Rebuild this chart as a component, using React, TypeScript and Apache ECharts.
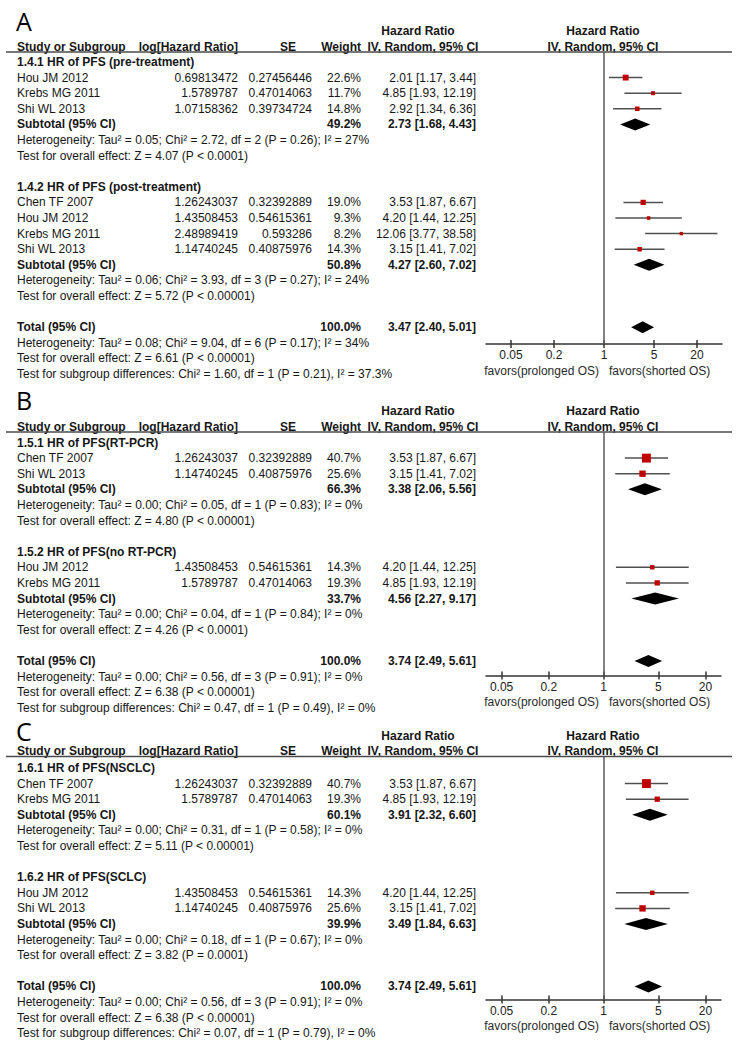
import React, { useEffect, useRef } from "react";
import * as echarts from "echarts";

// ---------------- data ----------------
const TICKS = [0.05, 0.2, 1, 5, 20];
const FAVOURS = ["favors(prolonged OS)", "favors(shorted OS)"];
const HEAD_COLS = ["Study or Subgroup", "log[Hazard Ratio]", "SE", "Weight"];
const HEAD_HR = ["Hazard Ratio", "IV, Random, 95% CI"];

// Panel A
const A1_title = "1.4.1 HR of PFS (pre-treatment)";
const A1_study = ["Hou JM 2012", "Krebs MG 2011", "Shi WL 2013"];
const A1_logHR = ["0.69813472", "1.5789787", "1.07158362"];
const A1_se = ["0.27456446", "0.47014063", "0.39734724"];
const A1_weight = [22.6, 11.7, 14.8];
const A1_hr = [2.01, 4.85, 2.92];
const A1_lo = [1.17, 1.93, 1.34];
const A1_hi = [3.44, 12.19, 6.36];
const A1_sub = [2.73, 1.68, 4.43, 49.2];
const A1_het = "Heterogeneity: Tau\u00b2 = 0.05; Chi\u00b2 = 2.72, df = 2 (P = 0.26); I\u00b2 = 27%";
const A1_z = "Test for overall effect: Z = 4.07 (P < 0.0001)";

const A2_title = "1.4.2 HR of PFS (post-treatment)";
const A2_study = ["Chen TF 2007", "Hou JM 2012", "Krebs MG 2011", "Shi WL 2013"];
const A2_logHR = ["1.26243037", "1.43508453", "2.48989419", "1.14740245"];
const A2_se = ["0.32392889", "0.54615361", "0.593286", "0.40875976"];
const A2_weight = [19.0, 9.3, 8.2, 14.3];
const A2_hr = [3.53, 4.2, 12.06, 3.15];
const A2_lo = [1.87, 1.44, 3.77, 1.41];
const A2_hi = [6.67, 12.25, 38.58, 7.02];
const A2_sub = [4.27, 2.6, 7.02, 50.8];
const A2_het = "Heterogeneity: Tau\u00b2 = 0.06; Chi\u00b2 = 3.93, df = 3 (P = 0.27); I\u00b2 = 24%";
const A2_z = "Test for overall effect: Z = 5.72 (P < 0.00001)";

const A_total = [3.47, 2.4, 5.01, 100.0];
const A_totalHet = "Heterogeneity: Tau\u00b2 = 0.08; Chi\u00b2 = 9.04, df = 6 (P = 0.17); I\u00b2 = 34%";
const A_totalZ = "Test for overall effect: Z = 6.61 (P < 0.00001)";
const A_diff = "Test for subgroup differences: Chi\u00b2 = 1.60, df = 1 (P = 0.21), I\u00b2 = 37.3%";

// Panel B
const B1_title = "1.5.1 HR of PFS(RT-PCR)";
const B1_study = ["Chen TF 2007", "Shi WL 2013"];
const B1_logHR = ["1.26243037", "1.14740245"];
const B1_se = ["0.32392889", "0.40875976"];
const B1_weight = [40.7, 25.6];
const B1_hr = [3.53, 3.15];
const B1_lo = [1.87, 1.41];
const B1_hi = [6.67, 7.02];
const B1_sub = [3.38, 2.06, 5.56, 66.3];
const B1_het = "Heterogeneity: Tau\u00b2 = 0.00; Chi\u00b2 = 0.05, df = 1 (P = 0.83); I\u00b2 = 0%";
const B1_z = "Test for overall effect: Z = 4.80 (P < 0.00001)";

const B2_title = "1.5.2 HR of PFS(no RT-PCR)";
const B2_study = ["Hou JM 2012", "Krebs MG 2011"];
const B2_logHR = ["1.43508453", "1.5789787"];
const B2_se = ["0.54615361", "0.47014063"];
const B2_weight = [14.3, 19.3];
const B2_hr = [4.2, 4.85];
const B2_lo = [1.44, 1.93];
const B2_hi = [12.25, 12.19];
const B2_sub = [4.56, 2.27, 9.17, 33.7];
const B2_het = "Heterogeneity: Tau\u00b2 = 0.00; Chi\u00b2 = 0.04, df = 1 (P = 0.84); I\u00b2 = 0%";
const B2_z = "Test for overall effect: Z = 4.26 (P < 0.0001)";

const B_total = [3.74, 2.49, 5.61, 100.0];
const B_totalHet = "Heterogeneity: Tau\u00b2 = 0.00; Chi\u00b2 = 0.56, df = 3 (P = 0.91); I\u00b2 = 0%";
const B_totalZ = "Test for overall effect: Z = 6.38 (P < 0.00001)";
const B_diff = "Test for subgroup differences: Chi\u00b2 = 0.47, df = 1 (P = 0.49), I\u00b2 = 0%";

// Panel C
const C1_title = "1.6.1 HR of PFS(NSCLC)";
const C1_study = ["Chen TF 2007", "Krebs MG 2011"];
const C1_logHR = ["1.26243037", "1.5789787"];
const C1_se = ["0.32392889", "0.47014063"];
const C1_weight = [40.7, 19.3];
const C1_hr = [3.53, 4.85];
const C1_lo = [1.87, 1.93];
const C1_hi = [6.67, 12.19];
const C1_sub = [3.91, 2.32, 6.6, 60.1];
const C1_het = "Heterogeneity: Tau\u00b2 = 0.00; Chi\u00b2 = 0.31, df = 1 (P = 0.58); I\u00b2 = 0%";
const C1_z = "Test for overall effect: Z = 5.11 (P < 0.00001)";

const C2_title = "1.6.2 HR of PFS(SCLC)";
const C2_study = ["Hou JM 2012", "Shi WL 2013"];
const C2_logHR = ["1.43508453", "1.14740245"];
const C2_se = ["0.54615361", "0.40875976"];
const C2_weight = [14.3, 25.6];
const C2_hr = [4.2, 3.15];
const C2_lo = [1.44, 1.41];
const C2_hi = [12.25, 7.02];
const C2_sub = [3.49, 1.84, 6.63, 39.9];
const C2_het = "Heterogeneity: Tau\u00b2 = 0.00; Chi\u00b2 = 0.18, df = 1 (P = 0.67); I\u00b2 = 0%";
const C2_z = "Test for overall effect: Z = 3.82 (P = 0.0001)";

const C_total = [3.74, 2.49, 5.61, 100.0];
const C_totalHet = "Heterogeneity: Tau\u00b2 = 0.00; Chi\u00b2 = 0.56, df = 3 (P = 0.91); I\u00b2 = 0%";
const C_totalZ = "Test for overall effect: Z = 6.38 (P < 0.00001)";
const C_diff = "Test for subgroup differences: Chi\u00b2 = 0.07, df = 1 (P = 0.79), I\u00b2 = 0%";

// ---------------- layout ----------------
const W = 747;
const H = 1054;
const ROW_H = 15.6;
const FONT = '"Liberation Sans", Arial, Helvetica, sans-serif';
const LETTER_FONT = '"Open Sans", "Liberation Sans", sans-serif';
const TEXT_COLOR = "#161616";
const X = { label: 17, logHR: 238, se: 312, seHead: 296, weight: 361, ci: 476, hrHead: 418, ivHead: 423, plotHead: 603 };
const PLOT_LEFT = 486;
const LAYOUT = [
  { letterY: 21, lineY: 52, row0: 62, axisY: 344, axMin: -1.65, axMax: 1.65, width: 236 },
  { letterY: 400, lineY: 432, row0: 442.5, axisY: 675.5, axMin: -1.5, axMax: 1.5, width: 235 },
  { letterY: 730.5, lineY: 756.5, row0: 768, axisY: 999.5, axMin: -1.5, axMax: 1.5, width: 235 },
];

type Sub = {
  title: string; study: string[]; logHR: string[]; se: string[]; weight: number[];
  hr: number[]; lo: number[]; hi: number[]; sub: number[]; het: string; z: string;
};
const mk = (title: string, study: string[], logHR: string[], se: string[], weight: number[], hr: number[], lo: number[], hi: number[], sub: number[], het: string, z: string): Sub =>
  ({ title, study, logHR, se, weight, hr, lo, hi, sub, het, z });

const PANELS = [
  {
    letter: "A",
    subs: [
      mk(A1_title, A1_study, A1_logHR, A1_se, A1_weight, A1_hr, A1_lo, A1_hi, A1_sub, A1_het, A1_z),
      mk(A2_title, A2_study, A2_logHR, A2_se, A2_weight, A2_hr, A2_lo, A2_hi, A2_sub, A2_het, A2_z),
    ],
    total: A_total, totalHet: A_totalHet, totalZ: A_totalZ, diff: A_diff,
  },
  {
    letter: "B",
    subs: [
      mk(B1_title, B1_study, B1_logHR, B1_se, B1_weight, B1_hr, B1_lo, B1_hi, B1_sub, B1_het, B1_z),
      mk(B2_title, B2_study, B2_logHR, B2_se, B2_weight, B2_hr, B2_lo, B2_hi, B2_sub, B2_het, B2_z),
    ],
    total: B_total, totalHet: B_totalHet, totalZ: B_totalZ, diff: B_diff,
  },
  {
    letter: "C",
    subs: [
      mk(C1_title, C1_study, C1_logHR, C1_se, C1_weight, C1_hr, C1_lo, C1_hi, C1_sub, C1_het, C1_z),
      mk(C2_title, C2_study, C2_logHR, C2_se, C2_weight, C2_hr, C2_lo, C2_hi, C2_sub, C2_het, C2_z),
    ],
    total: C_total, totalHet: C_totalHet, totalZ: C_totalZ, diff: C_diff,
  },
];

const ciText = (hr: number, lo: number, hi: number) => `${hr.toFixed(2)} [${lo.toFixed(2)}, ${hi.toFixed(2)}]`;
const wText = (w: number) => `${w.toFixed(1)}%`;

function T(text: string, x: number, y: number, align: string, bold = false, size = 12, family = FONT, color = TEXT_COLOR) {
  return {
    type: "text",
    x,
    y,
    silent: true,
    style: {
      text,
      x: 0,
      y: 0,
      fill: color,
      font: `${bold ? "bold " : ""}${size}px ${family}`,
      align,
      verticalAlign: "middle",
      textAlign: align,
      textVerticalAlign: "middle",
    },
  };
}

function buildOption() {
  const graphics: any[] = [];
  const grids: any[] = [];
  const xAxes: any[] = [];
  const yAxes: any[] = [];
  const series: any[] = [];
  const tickVals = TICKS.map((t) => Math.log10(t));

  PANELS.forEach((panel, p) => {
    const L = LAYOUT[p];
    const rowY = (r: number) => L.row0 + r * ROW_H;

    // letter + header
    graphics.push(T(panel.letter, 16, L.letterY, "left", false, 25, LETTER_FONT, "#000"));
    graphics.push(T(HEAD_HR[0], X.hrHead, L.lineY - 21, "center", true));
    graphics.push(T(HEAD_HR[0], X.plotHead, L.lineY - 21, "center", true));
    const hy = L.lineY - 5.5;
    graphics.push(T(HEAD_COLS[0], X.label, hy, "left", true));
    graphics.push(T(HEAD_COLS[1], X.logHR, hy, "right", true));
    graphics.push(T(HEAD_COLS[2], X.seHead, hy, "right", true));
    graphics.push(T(HEAD_COLS[3], X.weight, hy, "right", true));
    graphics.push(T(HEAD_HR[1], X.ivHead, hy, "center", true));
    graphics.push(T(HEAD_HR[1], X.plotHead, hy, "center", true));
    graphics.push({
      type: "line",
      silent: true,
      shape: { x1: 6, y1: L.lineY, x2: 732, y2: L.lineY },
      style: { stroke: "#4a4a4a", lineWidth: 1.5 },
    });

    const studyData: any[] = [];
    const diamondData: any[] = [];
    let r = 0;
    panel.subs.forEach((s) => {
      graphics.push(T(s.title, X.label, rowY(r), "left", true));
      r++;
      s.study.forEach((name, i) => {
        const y = rowY(r);
        graphics.push(T(name, X.label, y, "left"));
        graphics.push(T(s.logHR[i], X.logHR, y, "right"));
        graphics.push(T(s.se[i], X.se, y, "right"));
        graphics.push(T(wText(s.weight[i]), X.weight, y, "right"));
        graphics.push(T(ciText(s.hr[i], s.lo[i], s.hi[i]), X.ci, y, "right"));
        studyData.push([Math.log10(s.hr[i]), r, Math.log10(s.lo[i]), Math.log10(s.hi[i]), s.weight[i]]);
        r++;
      });
      const y = rowY(r);
      graphics.push(T("Subtotal (95% CI)", X.label, y, "left", true));
      graphics.push(T(wText(s.sub[3]), X.weight, y, "right", true));
      graphics.push(T(ciText(s.sub[0], s.sub[1], s.sub[2]), X.ci, y, "right", true));
      diamondData.push([Math.log10(s.sub[0]), r, Math.log10(s.sub[1]), Math.log10(s.sub[2])]);
      r++;
      graphics.push(T(s.het, X.label, rowY(r), "left"));
      r++;
      graphics.push(T(s.z, X.label, rowY(r), "left"));
      r += 2;
    });
    const ty = rowY(r);
    graphics.push(T("Total (95% CI)", X.label, ty, "left", true));
    graphics.push(T(wText(panel.total[3]), X.weight, ty, "right", true));
    graphics.push(T(ciText(panel.total[0], panel.total[1], panel.total[2]), X.ci, ty, "right", true));
    diamondData.push([Math.log10(panel.total[0]), r, Math.log10(panel.total[1]), Math.log10(panel.total[2])]);
    r++;
    graphics.push(T(panel.totalHet, X.label, rowY(r), "left"));
    r++;
    graphics.push(T(panel.totalZ, X.label, rowY(r), "left"));
    r++;
    graphics.push(T(panel.diff, X.label, rowY(r), "left"));

    // favours labels under the axis
    graphics.push(T(FAVOURS[0], 599, L.axisY + 26.5, "right", false, 12, FONT, "#2a2a2a"));
    graphics.push(T(FAVOURS[1], 609, L.axisY + 26.5, "left", false, 12, FONT, "#2a2a2a"));

    grids.push({ left: PLOT_LEFT, width: L.width, top: L.lineY, height: L.axisY - L.lineY, containLabel: false });
    yAxes.push({
      type: "value",
      gridIndex: p,
      inverse: true,
      min: (L.lineY - L.row0) / ROW_H,
      max: (L.axisY - L.row0) / ROW_H,
      show: false,
    });
    const axisColor = "#333";
    xAxes.push({
      type: "value",
      gridIndex: p,
      position: "bottom",
      min: L.axMin,
      max: L.axMax,
      splitLine: { show: false },
      axisLine: { show: true, onZero: false, lineStyle: { color: axisColor, width: 1.5 } },
      axisTick: { show: true, inside: false, length: 4, customValues: tickVals, lineStyle: { color: axisColor, width: 1.5 } },
      axisLabel: {
        show: true,
        customValues: tickVals,
        margin: 5,
        color: "#222",
        fontSize: 12,
        fontFamily: FONT,
        formatter: (v: number) => String(Number(Math.pow(10, v).toPrecision(2))),
      },
    });
    xAxes.push({
      type: "value",
      gridIndex: p,
      position: "bottom",
      min: L.axMin,
      max: L.axMax,
      splitLine: { show: false },
      axisLine: { show: false, onZero: false },
      axisTick: { show: true, inside: true, length: 4, customValues: tickVals, lineStyle: { color: axisColor, width: 1.5 } },
      axisLabel: { show: false },
    });

    series.push({
      type: "custom",
      name: `studies-${panel.letter}`,
      xAxisIndex: 2 * p,
      yAxisIndex: p,
      data: studyData,
      silent: true,
      renderItem: (_params: any, api: any) => {
        const row = api.value(1);
        const c = api.coord([api.value(0), row]);
        const l = api.coord([api.value(2), row]);
        const h = api.coord([api.value(3), row]);
        const s = 2 + 0.17 * api.value(4);
        return {
          type: "group",
          children: [
            { type: "line", shape: { x1: l[0], y1: l[1], x2: h[0], y2: h[1] }, style: { stroke: "#505050", lineWidth: 1.5 } },
            { type: "rect", shape: { x: c[0] - s / 2, y: c[1] - s / 2, width: s, height: s }, style: { fill: "#c00000" } },
          ],
        };
      },
      markLine: {
        silent: true,
        symbol: "none",
        label: { show: false },
        lineStyle: { color: "#5a5a5a", width: 1.5, type: "solid" },
        data: [{ xAxis: 0 }],
      },
    });
    series.push({
      type: "custom",
      name: `pooled-${panel.letter}`,
      xAxisIndex: 2 * p,
      yAxisIndex: p,
      data: diamondData,
      silent: true,
      renderItem: (_params: any, api: any) => {
        const row = api.value(1);
        const c = api.coord([api.value(0), row]);
        const l = api.coord([api.value(2), row]);
        const h = api.coord([api.value(3), row]);
        return {
          type: "polygon",
          shape: { points: [[l[0], l[1]], [c[0], c[1] - 6], [h[0], h[1]], [c[0], c[1] + 6]] },
          style: { fill: "#000" },
        };
      },
    });
  });

  return {
    animation: false,
    backgroundColor: "#fff",
    grid: grids,
    xAxis: xAxes,
    yAxis: yAxes,
    series,
    graphic: { elements: graphics },
  };
}

export default function App() {
  const ref = useRef<HTMLDivElement>(null);
  useEffect(() => {
    document.body.style.margin = "0";
    const chart = echarts.init(ref.current as HTMLDivElement, null, { renderer: "svg" });
    chart.setOption(buildOption() as any);
    return () => chart.dispose();
  }, []);
  return (
    <div
      ref={ref}
      style={{ position: "absolute", left: 0, top: 0, width: W, height: H, background: "#fff" }}
    />
  );
}
